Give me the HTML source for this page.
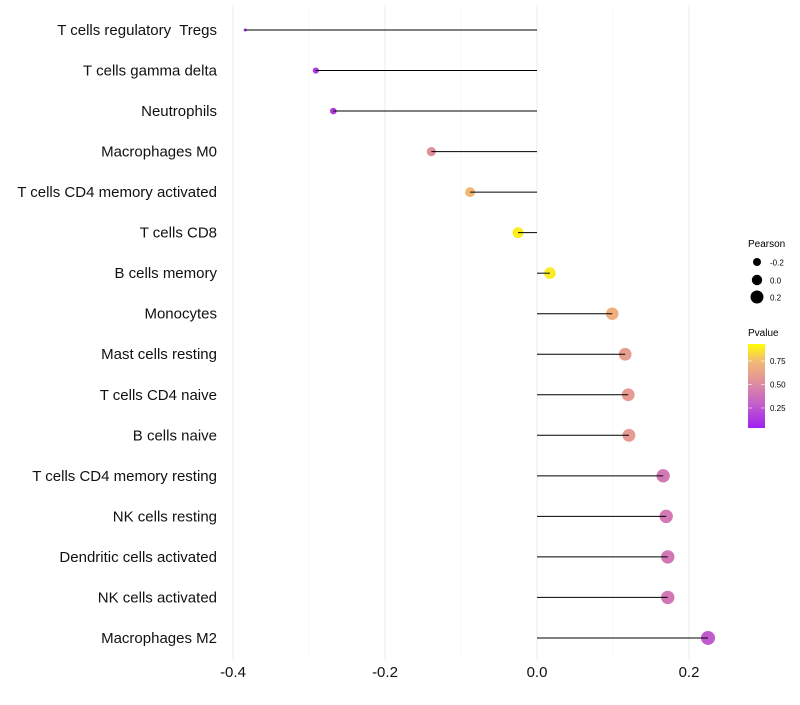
<!DOCTYPE html>
<html><head><meta charset="utf-8"><style>
body{margin:0;background:#fff;font-family:"Liberation Sans",sans-serif}
</style></head><body>
<svg id="chart" width="800" height="700" xmlns="http://www.w3.org/2000/svg" font-family="Liberation Sans, sans-serif">
<g id="grid"></g>
<g id="marks"></g>
<g id="ylabels"></g>
<g id="xlabels"></g>
<g>
<text x="748" y="247" font-size="10">Pearson</text>
<circle cx="757" cy="262" r="4" fill="#000"/>
<text x="770" y="265.5" font-size="8">-0.2</text>
<circle cx="757" cy="280" r="5.2" fill="#000"/>
<text x="770" y="283.5" font-size="8">0.0</text>
<circle cx="757" cy="297" r="6.5" fill="#000"/>
<text x="770" y="300.5" font-size="8">0.2</text>
</g>
<g>
<defs><linearGradient id="pg" x1="0" y1="1" x2="0" y2="0">
<stop offset="0" stop-color="#a020f0"/><stop offset="0.3" stop-color="#c563c8"/><stop offset="0.55" stop-color="#e0909c"/><stop offset="0.8" stop-color="#f3bb72"/><stop offset="1" stop-color="#ffff00"/>
</linearGradient></defs>
<text x="748" y="336" font-size="10">Pvalue</text>
<rect x="748" y="344" width="17" height="84" fill="url(#pg)"/>
<g stroke="#fff" stroke-opacity="0.6" stroke-width="1"><line x1="748" x2="752" y1="361" y2="361"/><line x1="761" x2="765" y1="361" y2="361"/><line x1="748" x2="752" y1="384.5" y2="384.5"/><line x1="761" x2="765" y1="384.5" y2="384.5"/><line x1="748" x2="752" y1="408" y2="408"/><line x1="761" x2="765" y1="408" y2="408"/></g>
<text x="770" y="364" font-size="8">0.75</text>
<text x="770" y="387.5" font-size="8">0.50</text>
<text x="770" y="411" font-size="8">0.25</text>
</g>
</svg>
<script>
const categories=["T cells regulatory  Tregs","T cells gamma delta","Neutrophils","Macrophages M0","T cells CD4 memory activated","T cells CD8","B cells memory","Monocytes","Mast cells resting","T cells CD4 naive","B cells naive","T cells CD4 memory resting","NK cells resting","Dendritic cells activated","NK cells activated","Macrophages M2"];
const pearson=[-0.384,-0.291,-0.268,-0.139,-0.088,-0.025,0.017,0.099,0.116,0.120,0.121,0.166,0.170,0.172,0.172,0.225];
const pvalue=[0.04,0.1,0.12,0.55,0.78,0.95,0.94,0.73,0.63,0.61,0.61,0.42,0.42,0.41,0.41,0.26];
const xTicks=[-0.4,-0.2,0,0.2];
const xMinor=[-0.3,-0.1,0.1];
const NS="http://www.w3.org/2000/svg";
const x=v=>537+v*760;
const y=i=>30+i*40.53;
const rScale=v=>Math.sqrt(Math.max(2,31.7+76.8*v));
const stops=[[0,[160,32,240]],[0.3,[197,99,200]],[0.55,[224,144,156]],[0.8,[243,187,114]],[1,[255,255,0]]];
function col(p){for(let k=1;k<stops.length;k++){if(p<=stops[k][0]){const a=stops[k-1],b=stops[k];const t=(p-a[0])/(b[0]-a[0]);return "rgb("+a[1].map((c,j)=>Math.round(c+(b[1][j]-c)*t)).join(",")+")";}}return "rgb(255,255,0)";}
function mk(tag,attrs,parent){const e=document.createElementNS(NS,tag);for(const k in attrs)e.setAttribute(k,attrs[k]);parent.appendChild(e);return e;}
const grid=document.getElementById("grid"),marks=document.getElementById("marks"),yl=document.getElementById("ylabels"),xl=document.getElementById("xlabels");
xMinor.forEach(v=>{const l=mk("line",{x1:x(v),x2:x(v),y1:5,y2:660,stroke:"#f3f3f3","stroke-width":0.6},grid);

});
xTicks.forEach(v=>{const l=mk("line",{x1:x(v),x2:x(v),y1:5,y2:660,stroke:"#ebebeb","stroke-width":1},grid);


const t=mk("text",{x:x(v),y:677,"font-size":15,"text-anchor":"middle",fill:"#111"},xl);t.textContent=v===0?"0.0":String(v);

});
categories.forEach((c,i)=>{
const pt=mk("circle",{cx:x(pearson[i]),cy:y(i),r:rScale(pearson[i]),fill:col(pvalue[i])},marks);


const ln=mk("line",{x1:x(0),x2:x(pearson[i]),y1:y(i),y2:y(i),stroke:"#000","stroke-width":1},marks);


const t=mk("text",{x:217,y:y(i)+5,"font-size":15,"text-anchor":"end",fill:"#111"},yl);t.textContent=c;


t.style.whiteSpace='pre';
});
</script>
</body></html>
